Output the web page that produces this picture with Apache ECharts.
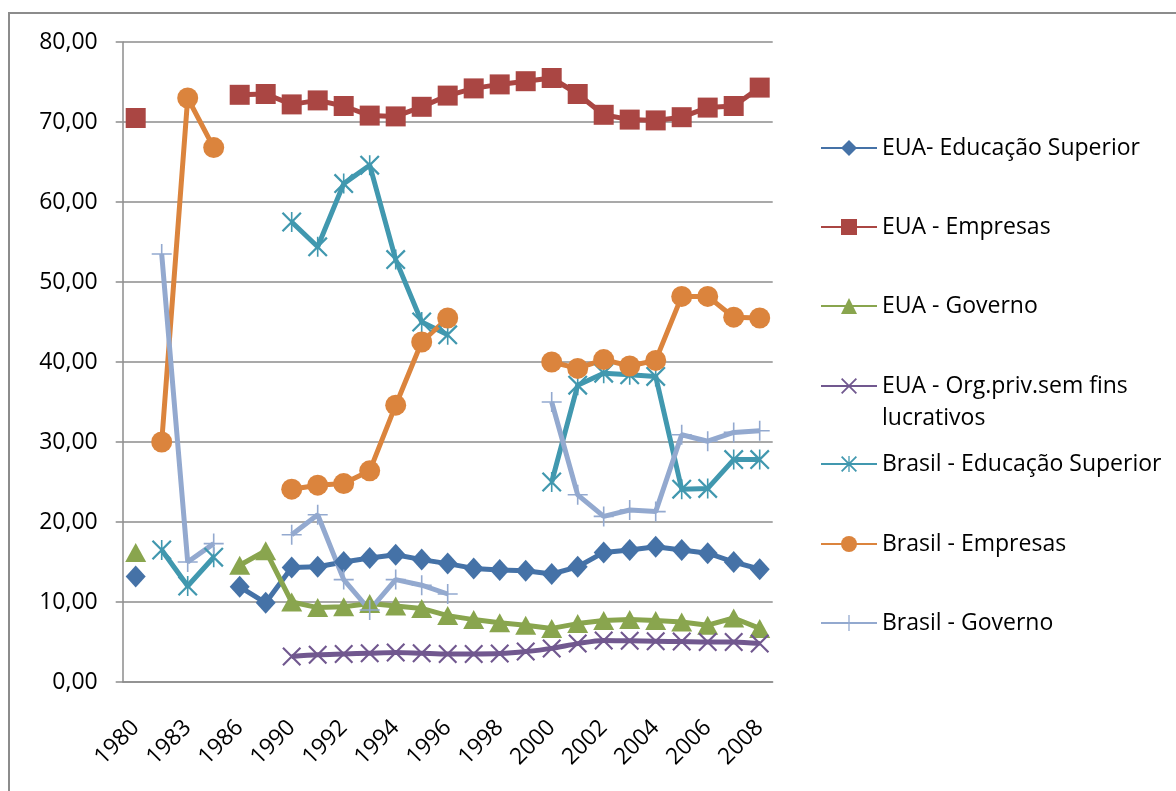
<!DOCTYPE html>
<html>
<head>
<meta charset="utf-8">
<script src="https://cdn.jsdelivr.net/npm/echarts@6/dist/echarts.min.js"></script>
<style>
  html, body { margin: 0; padding: 0; background: #fff; overflow: hidden; }
  #frame { position: absolute; left: 8px; top: 12px; width: 1200px; height: 820px; border: 2px solid #8c8c8c; }
  #chart { position: absolute; left: 0; top: 0; width: 1176px; height: 791px; }
</style>
</head>
<body>
<div id="frame"></div>
<div id="chart"></div>
<script>
const years = ['1980', '1982', '1983', '1985', '1986', '1988', '1990', '1991', '1992', '1993', '1994',
  '1995', '1996', '1997', '1998', '1999', '2000', '2001', '2002', '2003', '2004', '2005', '2006', '2007', '2008']

const eduSupEUA = [13.2, null, null, null, 11.9, 9.9, 14.3, 14.4, 15.0, 15.5, 15.9, 15.3, 14.8,
  14.2, 14.0, 13.9, 13.5, 14.4, 16.2, 16.5, 16.9, 16.5, 16.1, 15.0, 14.1]
const empresasEUA = [70.5, null, null, null, 73.4, 73.5, 72.2, 72.7, 72.0, 70.8, 70.7, 71.9, 73.3,
  74.2, 74.7, 75.1, 75.5, 73.5, 70.9, 70.3, 70.2, 70.6, 71.8, 72.0, 74.3]
const governoEUA = [16.2, null, null, null, 14.6, 16.4, 10.0, 9.3, 9.4, 9.8, 9.5, 9.2, 8.3,
  7.8, 7.4, 7.1, 6.7, 7.3, 7.7, 7.8, 7.7, 7.5, 7.1, 8.0, 6.7]
const orgPrivEUA = [null, null, null, null, null, null, 3.2, 3.4, 3.5, 3.6, 3.7, 3.6, 3.5,
  3.5, 3.55, 3.8, 4.2, 4.8, 5.2, 5.15, 5.1, 5.05, 5.0, 5.0, 4.8]
const eduSupBR = [null, 16.5, 12.0, 15.6, null, null, 57.5, 54.4, 62.3, 64.6, 52.8, 45.0, 43.4,
  null, null, null, 25.0, 37.1, 38.6, 38.4, 38.2, 24.1, 24.2, 27.8, 27.8]
const empresasBR = [null, 30.0, 73.0, 66.8, null, null, 24.1, 24.6, 24.8, 26.4, 34.6, 42.5, 45.5,
  null, null, null, 40.0, 39.2, 40.3, 39.5, 40.2, 48.2, 48.2, 45.6, 45.5]
const governoBR = [null, 53.5, 15.0, 17.3, null, null, 18.4, 20.9, 12.8, 9.0, 12.8, 12.1, 11.0,
  null, null, null, 35.0, 23.4, 20.7, 21.5, 21.3, 30.9, 30.1, 31.2, 31.4]

const seriesNames = ['EUA- Educação Superior', 'EUA - Empresas', 'EUA - Governo',
  'EUA - Org.priv.sem fins lucrativos', 'Brasil - Educação Superior', 'Brasil - Empresas', 'Brasil - Governo']

// marker shapes Excel uses that echarts lacks
const crossPath = 'path://M0,0.8 L0.8,0 L10,9.2 L9.2,10 Z M9.2,0 L10,0.8 L0.8,10 L0,9.2 Z'
const plusPath = 'path://M4.6,0 L5.4,0 L5.4,10 L4.6,10 Z M0,4.6 L10,4.6 L10,5.4 L0,5.4 Z'
const starPath = 'path://M0,0.8 L0.8,0 L10,9.2 L9.2,10 Z M9.2,0 L10,0.8 L0.8,10 L0,9.2 Z M4.6,0 L5.4,0 L5.4,10 L4.6,10 Z'

const font = '"Open Sans", Lato, sans-serif'
const fs = 23

function line(name, data, color, symbol, size, extra) {
  return Object.assign({
    name: name,
    type: 'line',
    data: data,
    symbol: symbol,
    symbolSize: size,
    showAllSymbol: true,
    lineStyle: {color: color, width: 5},
    itemStyle: {color: color},
    connectNulls: false,
    animation: false
  }, extra || {})
}

// icon centres of the legend rows: 148, 227, 306, 386, 464, 544, 623
const legendTops = [132, 211, 290, 338, 448, 528, 607]
const legends = seriesNames.map((n, i) => ({
  data: [n],
  left: 820,
  top: legendTops[i],
  padding: 0,
  itemWidth: 56,
  itemHeight: 20,
  // blank first line keeps the icon on the first text line
  formatter: n === 'EUA - Org.priv.sem fins lucrativos' ? ' \nEUA - Org.priv.sem fins\nlucrativos' : '{name}',
  textStyle: {fontFamily: font, fontSize: fs, color: '#000', lineHeight: 32},
  selectedMode: false
}))

const chart = echarts.init(document.getElementById('chart'))
chart.setOption({
  animation: false,
  legend: legends,
  grid: {left: 122.7, right: 403.3, top: 42, bottom: 109},
  xAxis: {
    type: 'category',
    data: years,
    boundaryGap: true,
    axisLine: {lineStyle: {color: '#8c8c8c', width: 1.5}},
    axisTick: {interval: 0, length: 7, lineStyle: {color: '#8c8c8c', width: 1.5}},
    axisLabel: {interval: 1, rotate: 45, margin: 42, fontFamily: font, fontSize: fs, color: '#000'}
  },
  yAxis: {
    type: 'value',
    min: 0,
    max: 80,
    interval: 10,
    axisLine: {show: true, lineStyle: {color: '#8c8c8c', width: 1.5}},
    axisTick: {show: true, length: 7, lineStyle: {color: '#8c8c8c', width: 1.5}},
    splitLine: {lineStyle: {color: '#8c8c8c', width: 1.5}},
    axisLabel: {
      margin: 25, fontFamily: font, fontSize: fs, color: '#000',
      formatter: v => v.toFixed(2).replace('.', ',')
    }
  },
  series: [
    line(seriesNames[0], eduSupEUA, '#4572A7', 'diamond', [20, 22]),
    line(seriesNames[1], empresasEUA, '#AA4643', 'rect', 20),
    line(seriesNames[2], governoEUA, '#89A54E', 'triangle', [21, 19]),
    line(seriesNames[3], orgPrivEUA, '#71588F', crossPath, 19, {smooth: 0.3}),
    line(seriesNames[4], eduSupBR, '#4198AF', starPath, 20),
    line(seriesNames[5], empresasBR, '#DB843D', 'circle', 21),
    line(seriesNames[6], governoBR, '#93A9CF', plusPath, 20)
  ]
})
</script>
</body>
</html>
